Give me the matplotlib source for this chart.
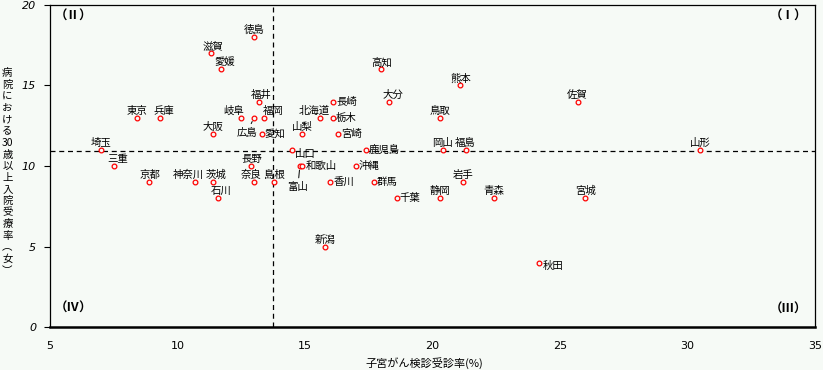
import matplotlib
matplotlib.use("Agg")
import matplotlib.pyplot as plt

plt.rcParams['font.family'] = ['Noto Sans CJK JP', 'DejaVu Sans']

# prefecture, cervical cancer screening rate (%), inpatient rate (women, 30+)
names = ["北海道", "青森", "岩手", "宮城", "秋田", "山形", "福島", "茨城", "栃木", "群馬",
         "埼玉", "千葉", "東京", "神奈川", "新潟", "富山", "石川", "福井", "山梨", "長野",
         "岐阜", "静岡", "愛知", "三重", "滋賀", "京都", "大阪", "兵庫", "奈良", "和歌山",
         "鳥取", "島根", "岡山", "広島", "山口", "徳島", "香川", "愛媛", "高知", "福岡",
         "佐賀", "長崎", "熊本", "大分", "宮崎", "鹿児島", "沖縄"]
screening = [15.6, 22.4, 21.2, 26.0, 24.2, 30.5, 21.3, 11.4, 16.1, 17.7,
             7.0, 18.6, 8.4, 10.7, 15.8, 14.8, 11.6, 13.2, 14.9, 12.9,
             12.5, 20.3, 13.3, 7.5, 11.3, 8.9, 11.4, 9.3, 13.0, 14.9,
             20.3, 13.8, 20.4, 13.0, 14.5, 13.0, 16.0, 11.7, 18.0, 13.4,
             25.7, 16.1, 21.1, 18.3, 16.3, 17.4, 17.0]
inpatient = [13, 8, 9, 8, 4, 11, 11, 9, 13, 9,
             11, 8, 13, 9, 5, 10, 8, 14, 12, 10,
             13, 8, 12, 10, 17, 9, 12, 13, 9, 10,
             13, 9, 11, 13, 11, 18, 9, 16, 16, 13,
             14, 14, 15, 14, 12, 11, 10]
mean_x = 13.73
mean_y = 10.95

bg = "#f6faf6"

# label placement: (dx, dy, ha, va) in pixels, default is centred above the marker
above = (0, 2, "center", "bottom")
right = (3, 0, "left", "center")
place = {
    "長崎": right, "栃木": right, "宮崎": right, "鹿児島": right, "和歌山": right,
    "沖縄": right, "香川": right, "群馬": right, "千葉": right, "愛知": right,
    "山口": (3, -4, "left", "center"), "秋田": (3, -3, "left", "center"),
    "北海道": (-6, 2, "center", "bottom"), "大分": (4, 2, "center", "bottom"),
    "兵庫": (4, 2, "center", "bottom"), "岐阜": (-8, 2, "center", "bottom"),
    "福岡": (9, 2, "center", "bottom"), "福井": (2, 2, "center", "bottom"),
    "神奈川": (-7, 2, "center", "bottom"), "三重": (4, 2, "center", "bottom"),
    "愛媛": (4, 2, "center", "bottom"), "滋賀": (2, 2, "center", "bottom"),
    "茨城": (3, 2, "center", "bottom"), "石川": (3, 2, "center", "bottom"),
    "奈良": (-3, 2, "center", "bottom"),
}
leader = {"広島": (-7, -15), "富山": (-2, -21)}

fig = plt.figure(figsize=(8.23, 3.70), dpi=100, facecolor=bg)
ax = fig.add_axes([0.0608, 0.1162, 0.9292, 0.8703], facecolor=bg)

ax.axvline(mean_x, color="black", lw=0.9, ls=(0, (4, 3)), zorder=1)
ax.axhline(mean_y, color="black", lw=0.9, ls=(0, (4, 3)), zorder=1)

ax.plot(screening, inpatient, "o", ms=3.4, mfc=bg, mec="red", mew=0.9, ls="none", zorder=3)

for name, x, y in zip(names, screening, inpatient):
    if name in leader:
        dx, dy = leader[name]
        ax.annotate(name, (x, y), xytext=(dx, dy), textcoords="offset pixels",
                    ha="center", va="center", fontsize=7.5,
                    arrowprops=dict(arrowstyle="-", lw=0.7, color="black",
                                    shrinkA=1, shrinkB=3))
        continue
    dx, dy, ha, va = place.get(name, above)
    ax.annotate(name, (x, y), xytext=(dx, dy), textcoords="offset pixels",
                ha=ha, va=va, fontsize=7.5)

# quadrant marks
quad = dict(fontsize=9, fontweight="bold", ha="center", va="center", transform=ax.transAxes)
ax.text(0.031, 0.966, "（Ⅱ）", **quad)
ax.text(0.966, 0.966, "（Ⅰ）", **quad)
ax.text(0.031, 0.059, "（Ⅳ）", **quad)
ax.text(0.966, 0.056, "（Ⅲ）", **quad)

ax.set_xlim(5, 35)
ax.set_ylim(0, 20)
ax.set_xticks([5, 10, 15, 20, 25, 30, 35])
ax.set_yticks([0, 5, 10, 15, 20])
ax.tick_params(axis="x", length=0, pad=10, labelsize=8)
ax.tick_params(axis="y", length=4, width=0.8, pad=6, labelsize=8)
for t in ax.get_yticklabels():
    t.set_fontstyle("italic")
    t.set_family("DejaVu Sans")
for t in ax.get_xticklabels():
    t.set_family("DejaVu Sans")

for side in ["left", "top", "right"]:
    ax.spines[side].set_linewidth(0.9)
ax.spines["bottom"].set_linewidth(1.8)

fig.text(0.516, 0.02, "子宮がん検診受診率(%)", ha="center", va="center", fontsize=8)
ylab = "\n".join(["病", "院", "に", "お", "け", "る", "30", "歳", "以", "上",
                  "入", "院", "受", "療", "率", "︵", "女", "︶"])
fig.text(0.009, 0.535, ylab, ha="center", va="center", fontsize=7.5, linespacing=1.2)

fig.savefig("out.png", dpi=100, facecolor=bg)
